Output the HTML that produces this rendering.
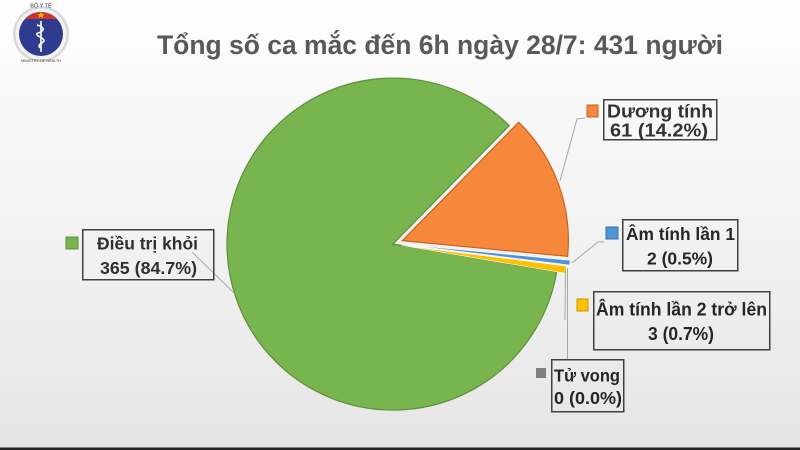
<!DOCTYPE html>
<html><head><meta charset="utf-8"><style>
html,body{margin:0;padding:0;width:800px;height:450px;overflow:hidden;}
body{background:linear-gradient(#ffffff 0%,#f9f9f9 20%,#f0f0f0 60%,#e6e6e6 97%);}
svg{display:block;}
text{font-family:"Liberation Sans",Arial,sans-serif;font-weight:bold;}
</style></head><body>
<svg width="800" height="450" viewBox="0 0 800 450" xmlns="http://www.w3.org/2000/svg">
<defs>
<clipPath id="inner"><circle cx="41" cy="34" r="22"/></clipPath>
</defs>
<!-- logo -->
<circle cx="41" cy="34" r="28" fill="#d7d9df"/>
<circle cx="41" cy="34" r="25.5" fill="#f4f4f6"/>
<circle cx="41" cy="34" r="22" fill="#2f3b8f"/>
<rect x="15" y="8" width="52" height="11" fill="#d22f2f" clip-path="url(#inner)"/>
<polygon points="41,11.5 42,14.2 44.8,14.2 42.6,15.8 43.4,18.4 41,16.8 38.6,18.4 39.4,15.8 37.2,14.2 40,14.2" fill="#f5d000"/>
<line x1="41" y1="21" x2="41" y2="52" stroke="#fff" stroke-width="1.6"/>
<path d="M37,25 C45,27 45,31 38,33 C33,35 45,38 44,41 C42,44 37,44 40,48" fill="none" stroke="#fff" stroke-width="1.6"/>
<text x="41" y="7.5" font-size="5.5" fill="#333" text-anchor="middle" style="font-weight:normal">BỘ Y TẾ</text>
<text x="41" y="62" font-size="3.8" fill="#333" text-anchor="middle" style="font-weight:normal">MINISTRY OF HEALTH</text>

<!-- title -->
<text x="157" y="54" font-size="27" fill="#595959" textLength="566" lengthAdjust="spacingAndGlyphs">Tổng số ca mắc đến 6h ngày 28/7: 431 người</text>

<!-- pie -->
<path d="M393,244 L556.7,271.8 A166,166 0 1 1 509.3,125.6 Z" fill="#79b54e" stroke="#5e8f3a" stroke-width="1.2"/>
<path d="M402.4,240.6 L518.7,122.2 A166,166 0 0 1 567.6,256.4 Z" fill="#f6883b" stroke="#c8621e" stroke-width="1.2"/>
<path d="M405,244.5 L570.25,260.27 A166,166 0 0 1 569.72,265.08 Z" fill="#4f94d4" stroke="#ffffff" stroke-width="0.6"/>
<path d="M402,245.5 L566.72,266.08 A166,166 0 0 1 565.66,273.3 Z" fill="#ffc000" stroke="#ffffff" stroke-width="0.6"/>

<!-- leader lines -->
<g stroke="#a8a8a8" stroke-width="1" fill="none">
<line x1="192" y1="252" x2="234" y2="293"/>
<polyline points="585,118 577,119 560,181"/>
<polyline points="604,242 598,242 572,263"/>
<line x1="565.5" y1="271" x2="565" y2="320"/>
<line x1="567.5" y1="268" x2="567.5" y2="359"/>
</g>

<!-- Điều trị khỏi -->
<rect x="66" y="237" width="12" height="12" fill="#79b54e" stroke="#5e8f3a" stroke-width="1"/>
<rect x="82.75" y="229.75" width="131" height="50" fill="none" stroke="#404040" stroke-width="1.5"/>
<text x="97" y="249.5" font-size="17.5" fill="#303030" textLength="101" lengthAdjust="spacingAndGlyphs">Điều trị khỏi</text>
<text x="100" y="274" font-size="17.5" fill="#303030" textLength="97" lengthAdjust="spacingAndGlyphs">365 (84.7%)</text>

<!-- Dương tính -->
<rect x="587" y="105" width="11" height="12" fill="#f6883b" stroke="#c8621e" stroke-width="1"/>
<rect x="603.75" y="99.75" width="113" height="40" fill="none" stroke="#404040" stroke-width="1.5"/>
<text x="607" y="117.5" font-size="18.5" fill="#333" textLength="106" lengthAdjust="spacingAndGlyphs">Dương tính</text>
<text x="610" y="136.5" font-size="18.5" fill="#333" textLength="98" lengthAdjust="spacingAndGlyphs">61 (14.2%)</text>

<!-- Âm tính lần 1 -->
<rect x="606" y="227" width="12" height="12" fill="#4f94d4" stroke="#3a73a8" stroke-width="1"/>
<rect x="622.75" y="219.75" width="115" height="51" fill="none" stroke="#404040" stroke-width="1.5"/>
<text x="626" y="240" font-size="17.5" fill="#262626" textLength="109" lengthAdjust="spacingAndGlyphs">Âm tính lần 1</text>
<text x="647" y="264.5" font-size="17.5" fill="#262626" textLength="66" lengthAdjust="spacingAndGlyphs">2 (0.5%)</text>

<!-- Âm tính lần 2 trở lên -->
<rect x="577" y="299" width="11" height="12" fill="#ffc000" stroke="#c99a00" stroke-width="1"/>
<rect x="593.75" y="291.75" width="176" height="58" fill="none" stroke="#404040" stroke-width="1.5"/>
<text x="596" y="315.5" font-size="18" fill="#262626" textLength="171" lengthAdjust="spacingAndGlyphs">Âm tính lần 2 trở lên</text>
<text x="648" y="340" font-size="18" fill="#262626" textLength="66" lengthAdjust="spacingAndGlyphs">3 (0.7%)</text>

<!-- Tử vong -->
<rect x="536" y="368" width="10" height="10" fill="#7f7f7f"/>
<rect x="551.75" y="359.75" width="72" height="52" fill="none" stroke="#404040" stroke-width="1.5"/>
<text x="554" y="381.5" font-size="17.5" fill="#262626" textLength="66" lengthAdjust="spacingAndGlyphs">Tử vong</text>
<text x="554" y="404" font-size="17.5" fill="#262626" textLength="68" lengthAdjust="spacingAndGlyphs">0 (0.0%)</text>

<!-- bottom bar -->
<rect x="0" y="447.5" width="800" height="2.5" fill="#262626"/>
</svg>
</body></html>
